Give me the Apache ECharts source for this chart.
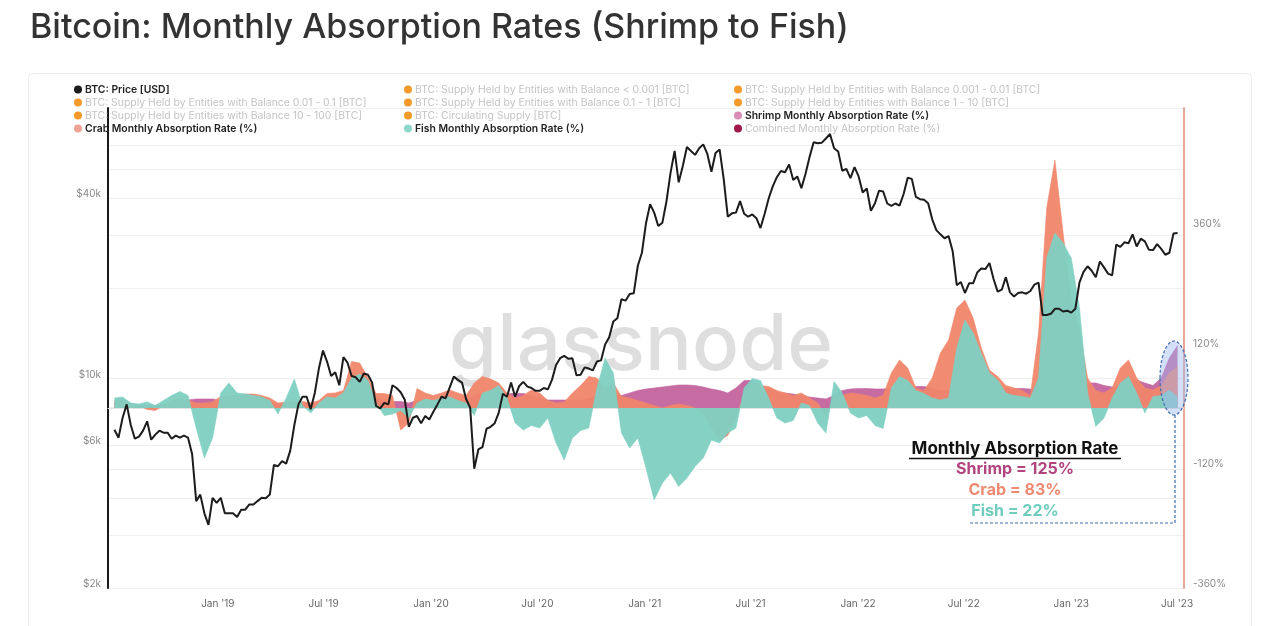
<!DOCTYPE html>
<html>
<head>
<meta charset="utf-8">
<script src="https://cdn.jsdelivr.net/npm/echarts@6/dist/echarts.min.js"></script>
<style>
html,body{margin:0;padding:0;background:#fff;}
#chart{width:1280px;height:626px;}
</style>
</head>
<body>
<div id="chart"></div>
<script>
// ---------- DATA ----------
// Weekly BTC price (USD), every 7 days from 2018-07-08 to 2023-07-02
const priceStart = '2018-07-08';
const priceStepDays = 7;
const btcPrice = [
 6750,6350,7400,8200,7000,6300,6400,6700,7200,6250,6500,6700,6600,6600,6300,6450,6350,6450,6350,5600,3900,4100,3550,3250,4000,3850,
 4000,3550,3550,3550,3450,3650,3650,3800,3800,3900,4000,3990,4100,5150,5100,5300,5200,5750,7000,8200,8700,8700,7900,8950,10800,12400,
 11400,10200,10500,9500,11800,11300,10200,10100,9750,10400,10300,9700,8100,7950,8300,8200,9500,9300,9000,8500,6900,7400,7500,7100,7500,7300,
 7750,8200,8700,8600,9350,10150,9900,9700,8550,8000,5000,5800,5900,6800,6900,7100,7700,8900,8700,9700,8700,9450,9750,9400,9300,9100,
 9100,9300,9200,9900,11100,11700,11900,11650,11700,10250,10300,10900,10800,10650,11400,11500,13000,13750,15500,15900,18400,18200,19150,19250,23800,26300,
 33000,38200,35800,32300,33100,39000,48600,57500,45200,51200,59300,57500,55800,58700,60500,56200,49000,56600,58200,46400,34700,35600,35800,39100,35500,34700,
 35300,34300,31800,35400,39900,43800,47000,49300,48800,51800,46000,47300,43200,48200,54900,61500,61000,61300,63300,65500,58700,57300,49400,50100,46700,50800,
 47300,41800,43100,36300,38500,42400,42100,38400,37700,38400,37800,41300,46800,46400,40400,39700,39500,38500,34000,31300,30300,29400,29900,26600,20500,21000,
 19300,20800,20800,22600,23300,23200,24300,21500,19500,19800,21800,19400,18800,19300,19400,19200,19600,20600,20900,16300,16300,16450,17100,17100,16750,16850,
 16600,17100,20900,22700,23700,22900,21800,24600,23500,22400,22100,28000,27500,28500,28300,30300,27600,29300,28700,26900,26850,28100,27100,25900,26300,30500,30600
];
// Monthly absorption rates (%), every 14 days from 2018-07-08 to 2023-07-02
const rateStart = '2018-07-08';
const rateStepDays = 14;
const fishRate = [
 20,22,10,8,12,5,15,25,33,25, -40,-100,-60,30,50,30,28,25,22,15,
 -12,20,58,5,-10,10,22,20,30,60, 68,55,10,-15,-12,-5,-20,10,18,15,
 20,22,15,10,-15,30,35,45,20,-30, -44,-35,-40,-20,-70,-104,-60,-45,-40,40,
 100,70,-50,-80,-60,-120,-184,-150,-130,-157, -140,-117,-100,-64,-70,-50,-40,40,59,55,
 20,-20,-30,-25,10,5,-30,-50,53,30, -10,-20,-15,-35,-41,40,63,55,35,29,
 20,16,20,120,176,150,109,70,56,30, 25,23,20,60,300,350,330,300,200,30,
 -37,-20,20,50,63,30,-10,23,25,36, 22
];
const crabRate = [
 15,18,8,5,-3,-5,5,15,20,16, 10,10,12,23,25,25,28,28,25,20,
 10,12,15,13,10,15,29,30,35,93, 90,60,29,29,25,-44,-30,39,30,25,
 30,36,30,25,50,63,58,50,30,20, 25,36,30,15,10,12,30,45,63,60,
 40,50,23,20,15,10,5,0,5,8, 5,0,-10,-40,-64,-55,-20,30,50,45,
 43,35,30,25,30,20,10,-17,20,25, 30,28,25,20,25,70,96,80,40,35,
 60,110,136,200,216,180,120,76,63,45, 40,35,25,150,400,496,350,216,156,60,
 35,30,40,80,96,60,40,36,45,70, 83
];
const shrimpRate = [
 10,10,5,5,5,5,8,10,12,16, 18,18,18,15,15,15,15,15,15,12,
 8,8,8,8,8,10,15,20,25,30, 30,25,20,15,13,13,10,15,15,15,
 15,15,15,15,25,30,30,30,29,29, 29,25,20,16,16,16,16,16,20,25,
 25,25,25,30,35,38,40,42,44,46, 46,45,42,38,35,30,40,55,55,45,
 38,32,30,28,25,22,20,18,25,35, 38,39,39,38,38,40,40,42,43,43,
 40,35,35,40,45,45,45,42,40,39, 39,39,38,38,40,40,40,40,45,50,
 50,45,42,45,55,56,50,45,60,100, 125
];
const priceTicks = [2000, 6000, 10000, 40000];
const priceGrid = [2000,3000,4000,5000,6000,8000,10000,20000,30000,40000,50000,60000,80000];
const rateTicks = [-360, -120, 120, 360];
const dateTicks = ['2019-01-01','2019-07-01','2020-01-01','2020-07-01','2021-01-01','2021-07-01','2022-01-01','2022-07-01','2023-01-01','2023-07-01'];
const xRange = ['2018-06-27', '2023-07-13'];

// ---------- helpers ----------
function ms(s){ const p=s.split('-').map(Number); return Date.UTC(p[0],p[1]-1,p[2]); }
function dateSeq(start, step, n){
  const out=[]; const t0=ms(start);
  for(let i=0;i<n;i++) out.push(t0 + i*step*86400000);
  return out;
}
const priceDates = dateSeq(priceStart, priceStepDays, btcPrice.length);
const rateDates = dateSeq(rateStart, rateStepDays, fishRate.length);
const zip=(a,b)=>a.map((v,i)=>[v,b[i]]);
const MONTHS=['Jan','Feb','Mar','Apr','May','Jun','Jul','Aug','Sep','Oct','Nov','Dec'];

const FONT = 'Inter, "Noto Sans", sans-serif';
const C_FISH='#7ed0c2', C_CRAB='#f0866c', C_SHRIMP='#c2609b';

const chart = echarts.init(document.getElementById('chart'), null, {renderer:'canvas'});

const greyTxt = {color:'#c4c4c4', fontWeight:'normal'};
const darkTxt = {color:'#222', fontWeight:600};
function legendCol(left, items){
  return {
    orient:'vertical', left:left, top:78, itemWidth:8, itemHeight:8, itemGap:0,
    selectedMode:false, icon:'circle',
    textStyle:{fontSize:10.4, fontFamily:FONT, lineHeight:13, padding:[0,0,0,-2]},
    data: items
  };
}
const ORANGE='#f39a2b';
function dummy(name,color){ return {name:name, type:'line', data:[], itemStyle:{color:color}, lineStyle:{color:color}}; }

const option = {
  animation:false,
  backgroundColor:'#fff',
  title:{text:'Bitcoin: Monthly Absorption Rates (Shrimp to Fish)', left:25, top:6,
    textStyle:{fontSize:34, fontWeight:500, color:'#333', fontFamily:FONT}},
  legend:[
    legendCol(69,[
      {name:'BTC: Price [USD]', textStyle:darkTxt},
      {name:'BTC: Supply Held by Entities with Balance 0.01 - 0.1 [BTC]', textStyle:greyTxt},
      {name:'BTC: Supply Held by Entities with Balance 10 - 100 [BTC]', textStyle:greyTxt},
      {name:'Crab Monthly Absorption Rate (%)', textStyle:darkTxt, itemStyle:{color:'#eea394'}}
    ]),
    legendCol(399,[
      {name:'BTC: Supply Held by Entities with Balance < 0.001 [BTC]', textStyle:greyTxt},
      {name:'BTC: Supply Held by Entities with Balance 0.1 - 1 [BTC]', textStyle:greyTxt},
      {name:'BTC: Circulating Supply [BTC]', textStyle:greyTxt},
      {name:'Fish Monthly Absorption Rate (%)', textStyle:darkTxt, itemStyle:{color:'#8fd7cb'}}
    ]),
    legendCol(729,[
      {name:'BTC: Supply Held by Entities with Balance 0.001 - 0.01 [BTC]', textStyle:greyTxt},
      {name:'BTC: Supply Held by Entities with Balance 1 - 10 [BTC]', textStyle:greyTxt},
      {name:'Shrimp Monthly Absorption Rate (%)', textStyle:darkTxt, itemStyle:{color:'#d88cb6'}},
      {name:'Combined Monthly Absorption Rate (%)', textStyle:greyTxt, itemStyle:{color:'#a0174a'}}
    ])
  ],
  grid:{left:108, right:96, top:108, bottom:38},
  xAxis:{
    type:'value', min:ms(xRange[0]), max:ms(xRange[1]),
    axisLine:{show:true, lineStyle:{color:'#e2e2e2', width:1}},
    axisTick:{show:false},
    splitLine:{show:false},
    axisLabel:{customValues:dateTicks.map(ms), color:'#666', fontSize:10, fontFamily:FONT, margin:11,
      formatter:function(v){const d=new Date(v); return MONTHS[d.getUTCMonth()]+" '"+String(d.getUTCFullYear()).slice(2);}}
  },
  yAxis:[
    {type:'log', logBase:10, min:2000, max:80000, position:'left',
     axisLine:{show:true, lineStyle:{color:'#1a1a1a', width:2}},
     axisTick:{show:false, customValues:priceGrid},
     splitLine:{show:true, lineStyle:{color:'#efefef', width:1}},
     axisLabel:{customValues:priceTicks, color:'#8a8a8a', fontSize:10, fontFamily:FONT, margin:7,
       verticalAlign:'bottom', lineHeight:8,
       formatter:function(v){return '$'+Math.round(v/1000)+'k';}}
    },
    {type:'value', min:-360, max:600, position:'right',
     axisLine:{show:true, lineStyle:{color:'#e6a797', width:2}},
     axisTick:{show:false},
     splitLine:{show:false},
     axisLabel:{customValues:rateTicks, color:'#8a8a8a', fontSize:10, fontFamily:FONT, margin:9,
       verticalAlign:'bottom', lineHeight:8,
       formatter:function(v){return v+'%';}}
    }
  ],
  series:[
    dummy('BTC: Supply Held by Entities with Balance < 0.001 [BTC]',ORANGE),
    dummy('BTC: Supply Held by Entities with Balance 0.001 - 0.01 [BTC]',ORANGE),
    dummy('BTC: Supply Held by Entities with Balance 0.01 - 0.1 [BTC]',ORANGE),
    dummy('BTC: Supply Held by Entities with Balance 0.1 - 1 [BTC]',ORANGE),
    dummy('BTC: Supply Held by Entities with Balance 1 - 10 [BTC]',ORANGE),
    dummy('BTC: Supply Held by Entities with Balance 10 - 100 [BTC]',ORANGE),
    dummy('BTC: Circulating Supply [BTC]',ORANGE),
    dummy('Combined Monthly Absorption Rate (%)','#a0174a'),
    {name:'Shrimp Monthly Absorption Rate (%)', type:'line', yAxisIndex:1, data:zip(rateDates,shrimpRate),
     showSymbol:false, symbol:'none', lineStyle:{width:0.6, color:C_SHRIMP}, itemStyle:{color:C_SHRIMP},
     areaStyle:{color:C_SHRIMP, opacity:0.92}, z:2},
    {name:'Crab Monthly Absorption Rate (%)', type:'line', yAxisIndex:1, data:zip(rateDates,crabRate),
     showSymbol:false, symbol:'none', lineStyle:{width:0.6, color:C_CRAB}, itemStyle:{color:C_CRAB},
     areaStyle:{color:C_CRAB, opacity:0.95}, z:3},
    {name:'Fish Monthly Absorption Rate (%)', type:'line', yAxisIndex:1, data:zip(rateDates,fishRate),
     showSymbol:false, symbol:'none', lineStyle:{width:0.6, color:C_FISH}, itemStyle:{color:C_FISH},
     areaStyle:{color:C_FISH, opacity:0.95}, z:4},
    {name:'BTC: Price [USD]', type:'line', yAxisIndex:0, data:zip(priceDates,btcPrice),
     showSymbol:false, symbol:'none', lineStyle:{width:2, color:'#1c1c1c'}, itemStyle:{color:'#1c1c1c'}, z:6}
  ],
  graphic:[
    {type:'rect', z:-10, shape:{x:28.5, y:73.5, width:1223, height:560, r:4}, style:{fill:'#fff', stroke:'#ececec', lineWidth:1}},
    {type:'text', z:1, style:{text:'glassnode', x:641, y:347, textAlign:'center', textVerticalAlign:'middle',
      font:'500 78px Inter, "Noto Sans", sans-serif', fill:'rgba(0,0,0,0.13)'}},
    {type:'ellipse', z:100, shape:{cx:1174, cy:378, rx:14, ry:37},
      style:{fill:'rgba(160,185,240,0.45)', stroke:'#3f6db0', lineWidth:1.2, lineDash:[3,2]}},
    {type:'polyline', z:100, shape:{points:[[1175,415],[1175,523],[970,523]]},
      style:{fill:null, stroke:'#3f6db0', lineWidth:1.2, lineDash:[3,2]}},
    {type:'text', z:100, style:{text:'Monthly Absorption Rate', x:1015, y:449, textAlign:'center', textVerticalAlign:'middle',
      font:'bold 17px Inter, "Noto Sans", sans-serif', fill:'#111'}},
    {type:'line', z:100, shape:{x1:909, y1:458.5, x2:1121, y2:458.5}, style:{stroke:'#111', lineWidth:1.5}},
    {type:'text', z:100, style:{text:'Shrimp = 125%', x:1015, y:469, textAlign:'center', textVerticalAlign:'middle',
      font:'bold 16px Inter, "Noto Sans", sans-serif', fill:'#b2457f'}},
    {type:'text', z:100, style:{text:'Crab = 83%', x:1015, y:490, textAlign:'center', textVerticalAlign:'middle',
      font:'bold 16px Inter, "Noto Sans", sans-serif', fill:'#ef8a72'}},
    {type:'text', z:100, style:{text:'Fish = 22%', x:1015, y:511, textAlign:'center', textVerticalAlign:'middle',
      font:'bold 16px Inter, "Noto Sans", sans-serif', fill:'#6fcdbd'}}
  ]
};
chart.setOption(option);
</script>
</body>
</html>
